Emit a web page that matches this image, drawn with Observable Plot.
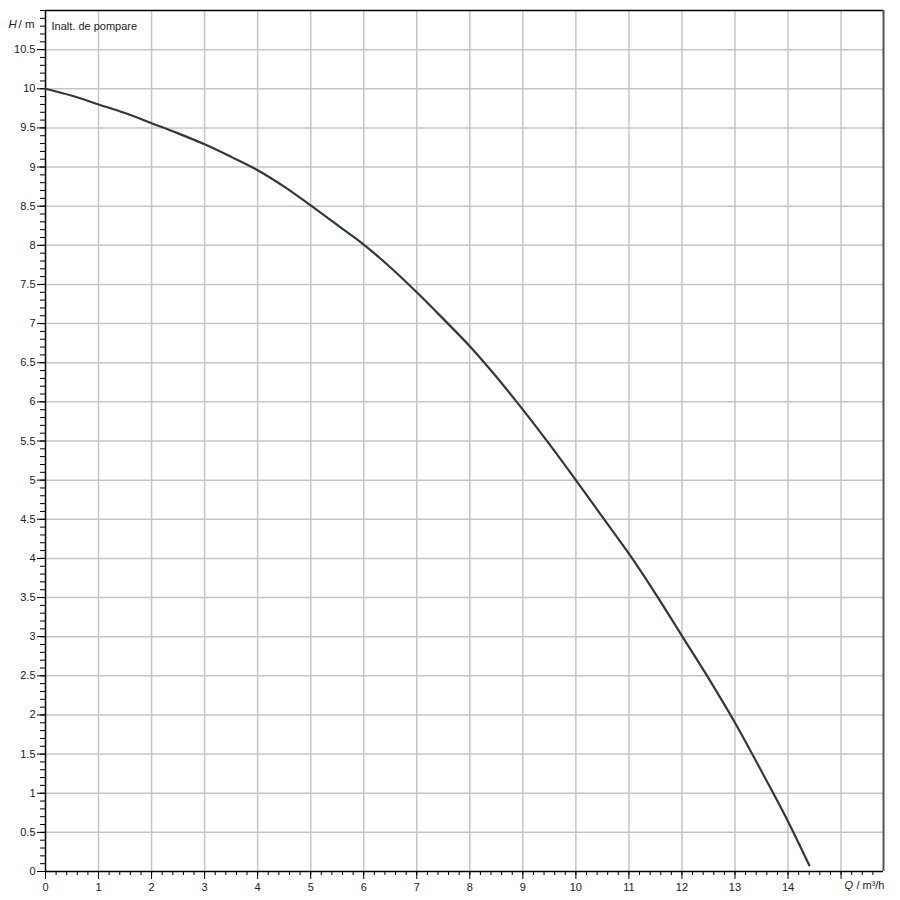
<!DOCTYPE html>
<html>
<head>
<meta charset="utf-8">
<script src="https://cdn.jsdelivr.net/npm/d3@7"></script>
<script src="https://cdn.jsdelivr.net/npm/@observablehq/plot@0.6"></script>
<style>
html, body { margin: 0; padding: 0; background: #fff; }
#chart svg { display: block; }
</style>
</head>
<body>
<div id="chart"></div>
<script>
// Pump curve: flow Q (m³/h) vs head H (m)
const flowQ = [0, 0.5, 1, 1.5, 2, 2.5, 3, 3.5, 4, 4.5, 5, 5.5, 6, 6.5, 7, 7.5, 8, 8.5, 9, 9.5, 10, 10.5, 11, 11.5, 12, 12.5, 13, 13.5, 14, 14.4];
const headH = [10, 9.91, 9.80, 9.69, 9.56, 9.43, 9.29, 9.13, 8.96, 8.75, 8.51, 8.26, 8.01, 7.72, 7.40, 7.06, 6.71, 6.32, 5.90, 5.46, 5.00, 4.53, 4.06, 3.55, 3.01, 2.47, 1.90, 1.28, 0.64, 0.08];

const xMajorTicks = [0, 1, 2, 3, 4, 5, 6, 7, 8, 9, 10, 11, 12, 13, 14, 15];
const xTickLabels = [0, 1, 2, 3, 4, 5, 6, 7, 8, 9, 10, 11, 12, 13, 14];
const xMinorTicks = d3.range(0, 79).map(i => i / 5);
const yMajorTicks = d3.range(0, 22).map(i => i / 2);
const yMinorTicks = d3.range(0, 111).map(i => i / 10);
const xMax = 15.8;
const yMax = 11;

const points = flowQ.map((q, i) => ({q, h: headH[i]}));

const font = "'Liberation Sans', Arial, sans-serif";
const ink = "#222";

const chart = Plot.plot({
  width: 900,
  height: 900,
  marginLeft: 45,
  marginRight: 17,
  marginTop: 10,
  marginBottom: 29,
  style: {fontFamily: font, fontSize: "11px", color: ink, background: "#fff"},
  x: {domain: [0, xMax]},
  y: {domain: [0, yMax]},
  marks: [
    Plot.gridX(xMajorTicks.filter(d => d > 0), {stroke: "#c6c6c6", strokeOpacity: 1, strokeWidth: 1.5}),
    Plot.gridY(yMajorTicks.filter(d => d > 0), {stroke: "#c6c6c6", strokeOpacity: 1, strokeWidth: 1.5}),
    Plot.axisX(xMinorTicks, {tickSize: 4, text: null, stroke: "#000", label: null}),
    Plot.axisX(xMajorTicks, {tickSize: 8, tickPadding: 4, stroke: "#000", label: null,
      tickFormat: d => xTickLabels.includes(d) ? String(d) : "", fill: ink}),
    Plot.axisY(yMinorTicks, {tickSize: 5, text: null, stroke: "#000", label: null}),
    Plot.axisY(yMajorTicks, {tickSize: 8, tickPadding: 2, stroke: "#000", label: null,
      tickFormat: d => String(d), fill: ink}),
    Plot.ruleX([0], {stroke: "#000", strokeWidth: 1.5}),
    Plot.ruleY([0], {stroke: "#000", strokeWidth: 1.5}),
    Plot.ruleY([yMax], {stroke: "#000", strokeWidth: 1.5}),
    Plot.ruleX([xMax], {stroke: "#555", strokeWidth: 2}),
    Plot.line(points, {x: "q", y: "h", stroke: "#313842", strokeWidth: 2.2, curve: "monotone-x"}),
    // axis titles
    Plot.text(["H"], {frameAnchor: "top-left", dx: -37, dy: 9, textAnchor: "start", fontStyle: "italic", fontSize: 11.5, fill: ink}),
    Plot.text(["/ m"], {frameAnchor: "top-left", dx: -27, dy: 9, textAnchor: "start", fontSize: 11.5, fill: ink}),
    Plot.text(["Inalt. de pompare"], {frameAnchor: "top-left", dx: 6, dy: 12, textAnchor: "start", fontSize: 11, fill: ink}),
    Plot.text(["Q"], {frameAnchor: "bottom-right", dx: -39, dy: 17, textAnchor: "start", fontStyle: "italic", fontSize: 11, fill: ink}),
    Plot.text(["/ m³/h"], {frameAnchor: "bottom-right", dx: 1, dy: 17, textAnchor: "end", fontSize: 11, fill: ink})
  ]
});

document.getElementById("chart").appendChild(chart);
</script>
</body>
</html>
